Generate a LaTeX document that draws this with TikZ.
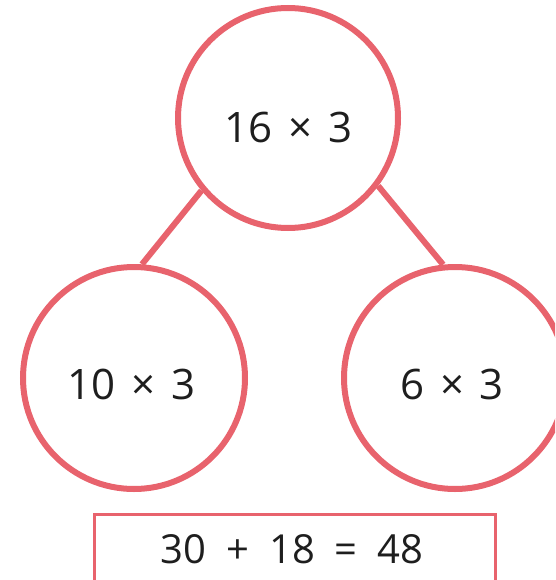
\documentclass[tikz,border=0pt]{standalone}
\usepackage{fontspec}
\setmainfont{Open Sans}
\definecolor{ring}{HTML}{E8636D}
\definecolor{ink}{HTML}{1E1E1E}
\newcommand{\gapa}{\hspace{0.38em}}
\newcommand{\gapb}{\hspace{0.5em}}
\begin{document}
\begin{tikzpicture}[x=1pt,y=-1pt,
  bubble/.style={circle,draw=ring,line width=6pt,inner sep=0pt,fill=white},
  link/.style={draw=ring,line width=6pt},
  lbl/.style={text=ink,font=\fontsize{42}{50}\selectfont,inner sep=0pt},
  sumbox/.style={rectangle,draw=ring,line width=3pt,inner sep=0pt}]
\useasboundingbox (0,0) rectangle (555,580);
\clip (0,0) rectangle (555,580);
\node[bubble,minimum size=220pt] (top) at (288,118) {};
\node[bubble,minimum size=222pt] (left) at (134,378) {};
\node[bubble,minimum size=222pt] (right) at (455,378) {};
\draw[link] (top.220) -- (left.86);
\draw[link] (top.323) -- (right.96.5);
\node[lbl] (tl) at (288,127) {16\gapa×\gapa3};
\node[lbl] (ll) at (131,384) {10\gapa×\gapa3};
\node[lbl] (rl) at (452,384) {6\gapa×\gapa3};
\node[sumbox,minimum width=401pt,minimum height=120pt] (sum) at (295,574.5) {};
\node[lbl,font=\fontsize{40}{48}\selectfont] (st) at (292,549) {30\gapb+\gapb18\gapb=\gapb48};
\end{tikzpicture}
\end{document}
